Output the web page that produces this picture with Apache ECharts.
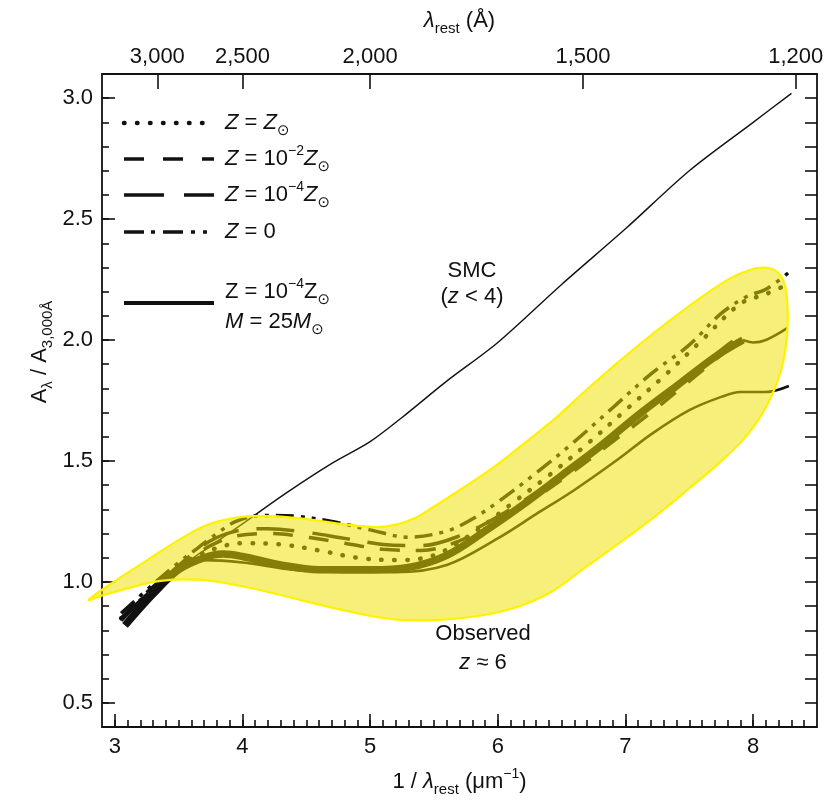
<!DOCTYPE html>
<html><head><meta charset="utf-8">
<script src="https://cdn.jsdelivr.net/npm/echarts@6/dist/echarts.min.js"></script>
<style>html,body{margin:0;padding:0;background:#fff}#c{width:837px;height:807px}</style>
</head><body><div id="c"></div>
<script>
// ---- tick labels ----
const xTickLabels = [3, 4, 5, 6, 7, 8];
const yTickLabels = [0.5, 1.0, 1.5, 2.0, 2.5, 3.0];
const topTickLabels = [3000, 2500, 2000, 1500, 1200]; // Angstrom

// ---- curves (x = 1/lambda [um^-1], y = A_lambda / A_3000) ----
const smcX = [3.1, 3.4, 3.7, 4.0, 4.35, 4.7, 5.0, 5.25, 5.6, 6.0, 6.5, 7.0, 7.5, 8.0, 8.3];
const smcY = [0.88, 1.02, 1.13, 1.24, 1.37, 1.49, 1.58, 1.68, 1.83, 1.99, 2.23, 2.46, 2.70, 2.90, 3.02];

const zSunX = [3.05, 3.3, 3.55, 3.8, 4.0, 4.3, 4.6, 4.9, 5.2, 5.5, 5.8, 6.1, 6.4, 6.7, 7.0, 7.3, 7.6, 7.9, 8.1, 8.27];
const zSunY = [0.85, 0.97, 1.08, 1.14, 1.16, 1.155, 1.13, 1.10, 1.09, 1.11, 1.20, 1.32, 1.44, 1.57, 1.71, 1.85, 2.00, 2.15, 2.19, 2.23];

const z2X = [3.05, 3.3, 3.55, 3.75, 3.95, 4.2, 4.5, 4.8, 5.1, 5.4, 5.7, 6.0, 6.3, 6.6, 6.9, 7.2, 7.5, 7.8, 7.92];
const z2Y = [0.85, 0.98, 1.08, 1.15, 1.19, 1.20, 1.185, 1.16, 1.135, 1.13, 1.17, 1.25, 1.35, 1.46, 1.58, 1.70, 1.83, 1.96, 2.01];

const z4X = [3.05, 3.3, 3.55, 3.75, 3.95, 4.2, 4.5, 4.8, 5.1, 5.4, 5.7, 6.0, 6.3, 6.6, 6.9, 7.2, 7.5, 7.8, 7.92];
const z4Y = [0.84, 0.97, 1.09, 1.17, 1.21, 1.22, 1.205, 1.18, 1.155, 1.15, 1.19, 1.27, 1.37, 1.48, 1.60, 1.72, 1.85, 1.98, 2.02];

const z0X = [3.05, 3.3, 3.5, 3.65, 3.8, 3.95, 4.15, 4.4, 4.7, 5.0, 5.3, 5.6, 5.8, 6.0, 6.3, 6.6, 6.9, 7.2, 7.5, 7.75, 7.95, 8.1, 8.28];
const z0Y = [0.87, 0.99, 1.08, 1.14, 1.20, 1.25, 1.275, 1.272, 1.25, 1.215, 1.185, 1.21, 1.26, 1.33, 1.45, 1.58, 1.72, 1.86, 1.98, 2.11, 2.18, 2.21, 2.28];

const m25X = [3.08, 3.3, 3.5, 3.7, 3.85, 4.0, 4.3, 4.6, 5.0, 5.3, 5.6, 5.9, 6.2, 6.5, 6.8, 7.1, 7.4, 7.7, 7.92];
const m25Y = [0.82, 0.95, 1.05, 1.10, 1.115, 1.105, 1.07, 1.05, 1.05, 1.06, 1.11, 1.21, 1.32, 1.44, 1.56, 1.69, 1.81, 1.93, 2.00];
const m25TailX = [7.92, 8.0, 8.1, 8.27];
const m25TailY = [2.00, 1.99, 2.00, 2.05];

const lowX = [3.1, 3.4, 3.7, 4.0, 4.4, 4.8, 5.2, 5.6, 6.0, 6.3, 6.6, 6.95, 7.2, 7.5, 7.75, 7.9, 8.1, 8.28];
const lowY = [0.84, 1.00, 1.09, 1.08, 1.05, 1.04, 1.04, 1.07, 1.18, 1.28, 1.38, 1.51, 1.61, 1.71, 1.765, 1.785, 1.785, 1.81];

// observed z~6 region contour (upper edge left->right, round the tip, lower edge right->left)
const bandX = [2.797, 2.992, 3.258, 3.516, 3.727, 3.930, 4.141, 4.430, 4.766, 5.023, 5.195, 5.352, 5.508, 5.703, 5.938, 6.172, 6.445, 6.719, 6.953, 7.211, 7.477, 7.734, 7.930, 8.125, 8.227, 8.266, 8.266, 8.219, 8.109, 7.953, 7.734, 7.484, 7.227, 6.953, 6.680, 6.406, 6.133, 5.859, 5.547, 5.234, 4.922, 4.609, 4.297, 3.984, 3.672, 3.359, 3.086, 2.891];
const bandY = [0.926, 1.000, 1.091, 1.178, 1.236, 1.264, 1.273, 1.264, 1.240, 1.227, 1.236, 1.264, 1.314, 1.380, 1.463, 1.558, 1.674, 1.806, 1.913, 2.025, 2.132, 2.227, 2.281, 2.298, 2.256, 2.165, 2.021, 1.876, 1.731, 1.607, 1.492, 1.380, 1.269, 1.161, 1.058, 0.955, 0.893, 0.860, 0.843, 0.843, 0.868, 0.905, 0.946, 0.983, 1.008, 1.004, 0.971, 0.942];

// ---- helpers ----
const FONT = "'Liberation Sans', 'DejaVu Sans', Arial, sans-serif";
const INK = '#111';
const zip = (xs, ys) => xs.map((x, i) => [x, ys[i]]);
const XMIN = 2.9, XMAX = 8.5, YMIN = 0.4, YMAX = 3.1;
const minorX = []; for (let k = 30; k <= 84; k++) minorX.push(k / 10);
const minorY = []; for (let k = 5; k <= 30; k++) minorY.push(k / 10);
const topTickPos = topTickLabels.map(l => 10000 / l);

const rich = {
  i: { fontStyle: 'italic', fontSize: 22, fontFamily: FONT, lineHeight: 30, color: INK },
  sup: { fontSize: 14, fontFamily: FONT, lineHeight: 16, verticalAlign: 'top', color: INK },
  sub: { fontSize: 15, fontFamily: FONT, lineHeight: 15, verticalAlign: 'bottom', color: INK },
  li: { fontStyle: 'italic', fontSize: 22, fontFamily: FONT, lineHeight: 30, color: INK }
};

function lineSeries(name, xs, ys, ls, smooth) {
  return {
    name, type: 'line', data: zip(xs, ys), smooth: smooth == null ? 0.35 : smooth,
    symbol: 'none', silent: true, z: 2, animation: false,
    lineStyle: Object.assign({ color: INK }, ls)
  };
}

const chart = echarts.init(document.getElementById('c'), null, { renderer: 'canvas' });

const axisLineStyle = { lineStyle: { color: INK, width: 1.8 } };
const tickStyle = { color: INK, width: 1.6 };

function legendText(x, y, text) {
  return { type: 'text', x, y, z: 100,
    style: { text, fill: INK, fontSize: 22, fontFamily: FONT, lineHeight: 30, verticalAlign: 'middle', rich } };
}
function legendLine(y, ls) {
  return { type: 'line', z: 100, shape: { x1: 124, y1: y, x2: 214, y2: y },
    style: Object.assign({ stroke: INK, lineWidth: 3.5 }, ls) };
}

const option = {
  animation: false,
  backgroundColor: '#fff',
  grid: { left: 102, right: 20, top: 74, bottom: 80, containLabel: false },
  xAxis: [
    { type: 'value', min: XMIN, max: XMAX, position: 'bottom',
      axisLine: axisLineStyle,
      axisTick: { inside: true, length: 13, customValues: xTickLabels, lineStyle: tickStyle },
      axisLabel: { customValues: xTickLabels, fontSize: 22, color: INK, fontFamily: FONT, margin: 9 },
      splitLine: { show: false },
      name: '1 / {li|λ}{sub|rest} (μm{sup|−1})', nameLocation: 'middle', nameGap: 40,
      nameTextStyle: { fontSize: 22, color: INK, fontFamily: FONT, lineHeight: 30, rich } },
    { type: 'value', min: XMIN, max: XMAX, position: 'top',
      axisLine: axisLineStyle,
      axisTick: { inside: true, length: 15, customValues: topTickPos, lineStyle: tickStyle },
      axisLabel: { customValues: topTickPos, fontSize: 22, color: INK, fontFamily: FONT, margin: 6,
        formatter: v => Math.round(10000 / v).toLocaleString('en-US') },
      splitLine: { show: false },
      name: '{li|λ}{sub|rest} (Å)', nameLocation: 'middle', nameGap: 38,
      nameTextStyle: { fontSize: 22, color: INK, fontFamily: FONT, lineHeight: 30, rich } },
    { type: 'value', min: XMIN, max: XMAX, position: 'bottom',
      axisLine: { show: false },
      axisTick: { inside: true, length: 7, customValues: minorX, lineStyle: tickStyle },
      axisLabel: { show: false }, splitLine: { show: false } }
  ],
  yAxis: [
    { type: 'value', min: YMIN, max: YMAX, position: 'left',
      axisLine: axisLineStyle,
      axisTick: { inside: true, length: 13, customValues: yTickLabels, lineStyle: tickStyle },
      axisLabel: { customValues: yTickLabels, fontSize: 22, color: INK, fontFamily: FONT, margin: 9,
        formatter: v => v.toFixed(1) },
      splitLine: { show: false } },
    { type: 'value', min: YMIN, max: YMAX, position: 'left',
      axisLine: { show: false },
      axisTick: { inside: true, length: 7, customValues: minorY, lineStyle: tickStyle },
      axisLabel: { show: false }, splitLine: { show: false } },
    { type: 'value', min: YMIN, max: YMAX, position: 'right',
      axisLine: axisLineStyle,
      axisTick: { inside: true, length: 12, customValues: minorY, lineStyle: tickStyle },
      axisLabel: { show: false }, splitLine: { show: false } }
  ],
  series: [
    lineSeries('SMC', smcX, smcY, { width: 1.4 }, 0.3),
    lineSeries('Z = 0', z0X, z0Y, { width: 3.5, type: [18, 7, 4, 7, 4, 7] }),
    lineSeries('Z = Zsun', zSunX, zSunY, { width: 4.5, type: [0.5, 12.5], cap: 'round' }),
    lineSeries('Z = 1e-2 Zsun', z2X, z2Y, { width: 3.5, type: [20, 16] }),
    lineSeries('Z = 1e-4 Zsun', z4X, z4Y, { width: 3.5, type: [38, 18] }),
    lineSeries('M25 low', lowX, lowY, { width: 2.6 }),
    lineSeries('M25', m25X, m25Y, { width: 7.5 }),
    lineSeries('M25 tail', m25TailX, m25TailY, { width: 2.6 }),
    { name: 'Observed z~6', type: 'custom', z: 5, silent: true, animation: false,
      xAxisIndex: 0, yAxisIndex: 0, clip: false,
      data: [[5, 1]],
      renderItem: function (params, api) {
        const pts = bandX.map((x, i) => api.coord([x, bandY[i]]));
        return { type: 'polygon', shape: { points: pts, smooth: 0.4 },
          style: { fill: 'rgba(238,226,0,0.52)', stroke: '#fff200', lineWidth: 2.2 } };
      } }
  ],
  graphic: [
    legendLine(123, { lineWidth: 4.5, lineDash: [0.5, 12.5], lineCap: 'round' }),
    legendText(225, 123, '{i|Z} = {i|Z}{sub|⊙}'),
    legendLine(159, { lineDash: [20, 19] }),
    legendText(225, 159, '{i|Z} = 10{sup|−2}{i|Z}{sub|⊙}'),
    legendLine(195, { lineDash: [40, 20] }),
    legendText(225, 195, '{i|Z} = 10{sup|−4}{i|Z}{sub|⊙}'),
    legendLine(232, { lineDash: [20, 7, 4, 8, 20, 8, 4, 8, 4, 8] }),
    legendText(225, 232, '{i|Z} = 0'),
    legendLine(303, { lineWidth: 4 }),
    legendText(225, 307, 'Z = 10{sup|−4}Z{sub|⊙}\n{i|M} = 25{i|M}{sub|⊙}'),
    { type: 'text', x: 472, y: 284, z: 100,
      style: { text: 'SMC\n({i|z} < 4)', fill: INK, fontSize: 22, fontFamily: FONT, lineHeight: 26,
        align: 'center', verticalAlign: 'middle', rich: Object.assign({}, rich, { i: Object.assign({}, rich.i, { lineHeight: 26 }) }) } },
    { type: 'text', x: 483, y: 648, z: 100,
      style: { text: 'Observed\n{i|z} ≈ 6', fill: INK, fontSize: 22, fontFamily: FONT, lineHeight: 29,
        align: 'center', verticalAlign: 'middle', rich: Object.assign({}, rich, { i: Object.assign({}, rich.i, { lineHeight: 29 }) }) } },
    { type: 'text', x: 40, y: 352, rotation: Math.PI / 2, z: 100,
      style: { text: 'A{sub|λ} / A{sub|3,000Å}', fill: INK, fontSize: 22, fontFamily: FONT, lineHeight: 30,
        align: 'center', verticalAlign: 'middle', rich } }
  ]
};
chart.setOption(option);
</script>
</body></html>
